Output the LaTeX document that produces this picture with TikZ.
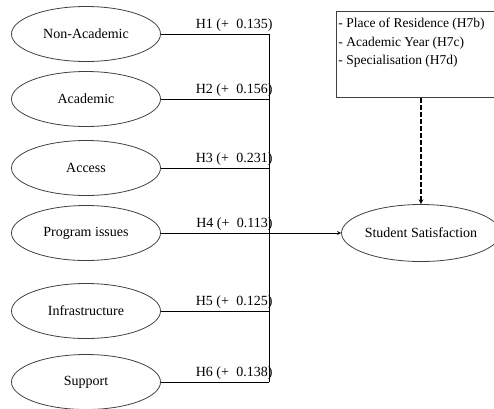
\documentclass[tikz,border=0pt]{standalone}
\usepackage{fontspec}
\setmainfont{Liberation Serif}
\usetikzlibrary{shapes.geometric}
\tikzset{
	factor/.style={draw=black!75, ellipse, minimum width=149pt, minimum height=55pt, inner sep=0pt},
	hyp/.style={anchor=base east, inner sep=0pt},
}
\begin{document}
\begin{tikzpicture}[x=1pt, y=-1pt, font=\fontsize{14}{16}\selectfont, line width=0.8pt, line join=round, >=stealth]
			\clip (0,0) rectangle (494,408);
			\foreach \i/\t/\y/\h in {1/Non-Academic/34/0.135, 2/Academic/99/0.156, 3/Access/168/0.231, 4/Program issues/233/0.113, 5/Infrastructure/311/0.125, 6/Support/382/0.138}
			{
			\node[factor] (f\i) at (86,\y) {\t};
			\coordinate (b\i) at (269,\y);
			\draw (f\i.east) -- (b\i);
			\node[hyp] (h\i) at ([xshift=4pt,yshift=6pt]b\i) {H\i{} (+\hspace{4pt} \h)};
			}
			\draw (b1) -- (b6);
			\node[factor, minimum width=146pt, minimum height=57pt] (sat) at (421,233) {Student Satisfaction};
			\draw[->] (b4) -- (sat);
			% moderating factors
			\node[draw=black!75, minimum width=180pt, minimum height=86pt, anchor=north west] (ctrl) at (336,11) {};
			\node[anchor=north west, align=left, inner sep=0pt, font=\fontsize{13.5}{18.5}\selectfont] (ctrltxt) at (338,18)
			{- Place of Residence (H7b)\\- Academic Year (H7c)\\- Specialisation (H7d)};
			\draw[->, dash pattern=on 5pt off 2pt, line width=1.1pt] (ctrl.south -| sat.north) -- (sat.north);
			\end{tikzpicture}
\end{document}
